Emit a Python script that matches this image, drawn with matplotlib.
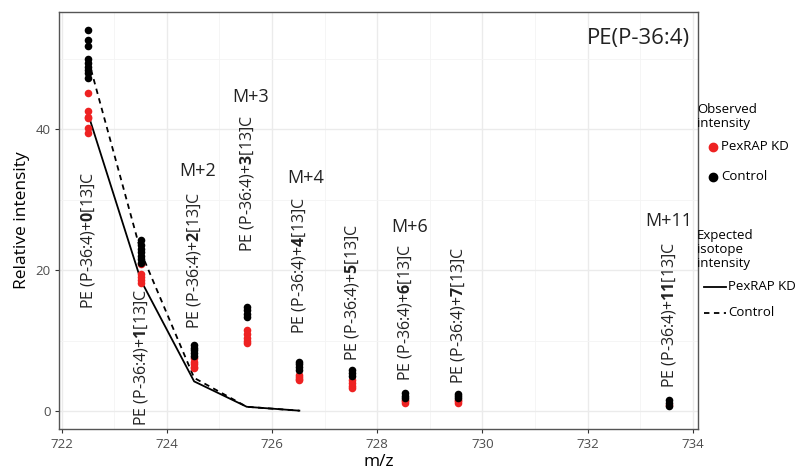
import matplotlib
matplotlib.use('Agg')
from matplotlib import pyplot as plt
from matplotlib.lines import Line2D

plt.rcParams['font.family'] = ['Open Sans', 'DejaVu Sans']
plt.rcParams['mathtext.fontset'] = 'custom'
plt.rcParams['mathtext.rm'] = 'Open Sans'
plt.rcParams['mathtext.bf'] = 'Open Sans:bold'

# isotope peaks of PE(P-36:4)
isotopes = [0, 1, 2, 3, 4, 5, 6, 7, 11]
mz = [722.51, 723.51, 724.52, 725.52, 726.52, 727.53, 728.53, 729.54, 733.55]

# observed intensities (replicates per isotope)
kd_obs = [
    [45.1, 42.5, 41.7, 41.5, 40.1, 39.5],
    [20.8, 19.5, 19.0, 18.6, 18.2],
    [7.5, 7.0, 6.6, 6.3, 6.1],
    [11.5, 10.9, 10.4, 10.0, 9.6],
    [5.1, 4.8, 4.6, 4.4],
    [4.4, 4.0, 3.6, 3.3],
    [1.6, 1.4, 1.2],
    [1.6, 1.4, 1.2],
    [0.8],
]
ctrl_obs = [
    [54.0, 52.7, 51.8, 50.0, 49.3, 48.8, 48.4, 47.9, 47.2],
    [24.2, 23.6, 23.0, 22.5, 22.0, 21.5, 21.0],
    [9.4, 9.0, 8.6, 8.2, 7.8],
    [14.8, 14.3, 13.8, 13.4],
    [7.0, 6.6, 6.2, 5.8],
    [5.8, 5.4, 4.9],
    [2.6, 2.2, 1.8],
    [2.4, 2.1, 1.9],
    [1.5, 1.1, 0.7],
]

# expected isotope intensity (first five peaks)
kd_exp = [42.0, 18.5, 4.2, 0.6, 0.05]
ctrl_exp = [49.8, 22.5, 4.7, 0.6, 0.05]

# label heights
label_y = [24.2, 7.6, 21.3, 32.3, 20.7, 16.8, 14.0, 13.5, 13.6]
mlabels = ['M+2', 'M+3', 'M+4', 'M+6', 'M+11']
mlabel_x = [724.59, 725.6, 726.64, 728.62, 733.54]
mlabel_y = [34.0, 44.5, 33.0, 26.1, 27.0]

fig = plt.figure(figsize=(7.96, 4.71), dpi=100)
ax = fig.add_axes([0.0747, 0.0892, 0.8023, 0.8853])

for x, ys in zip(mz, kd_obs):
    ax.scatter([x] * len(ys), ys, s=30, color='#EE2222', zorder=3, linewidths=0)
for x, ys in zip(mz, ctrl_obs):
    ax.scatter([x] * len(ys), ys, s=30, color='black', zorder=3, linewidths=0)

ax.plot(mz[:5], kd_exp, color='black', lw=1.3, zorder=2)
ax.plot(mz[:5], ctrl_exp, color='black', lw=1.3, ls=(0, (3, 2.5)), zorder=2)

for k, x, y in zip(isotopes, mz, label_y):
    ax.text(x, y, 'PE (P-36:4)+$\\mathbf{%d}$[13]C' % k, rotation=90,
            ha='center', va='center', fontsize=11.5, color='#222222')
for t, x, y in zip(mlabels, mlabel_x, mlabel_y):
    ax.text(x, y, t, ha='center', va='center', fontsize=13, color='#222222')

ax.text(733.94, 52.9, 'PE(P-36:4)', ha='right', va='center', fontsize=16, color='#222222')

ax.set_xlim(721.96, 734.1)
ax.set_ylim(-2.55, 56.6)
ax.set_xticks([722, 724, 726, 728, 730, 732, 734])
ax.set_xticks([723, 725, 727, 729, 731, 733], minor=True)
ax.set_yticks([0, 20, 40])
ax.set_yticks([10, 30, 50], minor=True)
ax.grid(which='major', color='#EBEBEB', lw=1.0)
ax.grid(which='minor', color='#F4F4F4', lw=0.6)
ax.set_axisbelow(True)
ax.tick_params(which='major', length=3, color='#333333', labelsize=9.5, labelcolor='#4D4D4D')
ax.tick_params(which='minor', length=0)
for s in ax.spines.values():
    s.set_color('#555555')
    s.set_linewidth(1.0)
ax.set_xlabel('m/z', fontsize=12.5, labelpad=2)
ax.set_ylabel('Relative intensity', fontsize=12.5, labelpad=4)

# legend
def fx(px):
    return px / 796.0

def fy(py):
    return 1 - py / 471.0

for t, py in zip(['Observed', 'intensity'], [113, 127]):
    fig.text(fx(697), fy(py), t, ha='left', va='baseline', fontsize=9.5)
fig.add_artist(Line2D([fx(713)], [fy(147)], marker='o', color='#EE2222', ms=6, lw=0))
fig.text(fx(721), fy(147), 'PexRAP KD', ha='left', va='center', fontsize=9.5)
fig.add_artist(Line2D([fx(713)], [fy(177)], marker='o', color='black', ms=6, lw=0))
fig.text(fx(721), fy(177), 'Control', ha='left', va='center', fontsize=9.5)

for t, py in zip(['Expected', 'isotope', 'intensity'], [239, 253, 267]):
    fig.text(fx(697), fy(py), t, ha='left', va='baseline', fontsize=9.5)
fig.add_artist(Line2D([fx(704), fx(726)], [fy(287), fy(287)], color='black', lw=1.3))
fig.text(fx(728), fy(287), 'PexRAP KD', ha='left', va='center', fontsize=9.5)
fig.add_artist(Line2D([fx(704), fx(726)], [fy(313), fy(313)], color='black', lw=1.3, ls=(0, (3, 2.5))))
fig.text(fx(728), fy(313), 'Control', ha='left', va='center', fontsize=9.5)

fig.savefig('out.png', dpi=100)
